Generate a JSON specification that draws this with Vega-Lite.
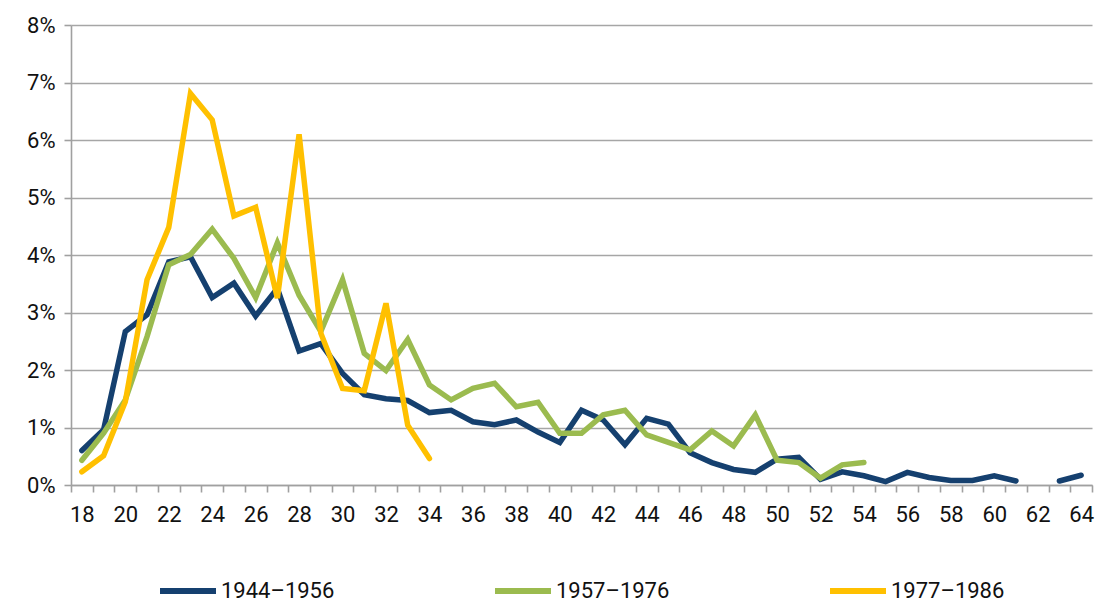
{
  "$schema": "https://vega.github.io/schema/vega-lite/v6.json",
  "autosize": {"type": "none"},
  "padding": {"left": 71, "top": 25, "right": 6, "bottom": 116},
  "width": 1021,
  "height": 460,
  "background": "white",
  "config": {
    "view": {"stroke": null},
    "font": "Roboto",
    "axis": {
      "labelFont": "Roboto",
      "labelFontSize": 22,
      "labelColor": "#111111",
      "domainColor": "#a0a0a0",
      "domainWidth": 1.6,
      "tickColor": "#a0a0a0",
      "tickWidth": 1.6,
      "tickSize": 7,
      "title": null
    },
    "legend": {
      "labelFont": "Roboto",
      "labelFontSize": 22,
      "labelColor": "#111111"
    }
  },
  "data": {
    "values": [
      {"age": 18, "cohort": "1944–1956", "share": 0.60},
      {"age": 19, "cohort": "1944–1956", "share": 0.96},
      {"age": 20, "cohort": "1944–1956", "share": 2.67},
      {"age": 21, "cohort": "1944–1956", "share": 2.96},
      {"age": 22, "cohort": "1944–1956", "share": 3.88},
      {"age": 23, "cohort": "1944–1956", "share": 3.97},
      {"age": 24, "cohort": "1944–1956", "share": 3.26},
      {"age": 25, "cohort": "1944–1956", "share": 3.51},
      {"age": 26, "cohort": "1944–1956", "share": 2.94},
      {"age": 27, "cohort": "1944–1956", "share": 3.42},
      {"age": 28, "cohort": "1944–1956", "share": 2.33},
      {"age": 29, "cohort": "1944–1956", "share": 2.46},
      {"age": 30, "cohort": "1944–1956", "share": 1.94},
      {"age": 31, "cohort": "1944–1956", "share": 1.57},
      {"age": 32, "cohort": "1944–1956", "share": 1.50},
      {"age": 33, "cohort": "1944–1956", "share": 1.47},
      {"age": 34, "cohort": "1944–1956", "share": 1.26},
      {"age": 35, "cohort": "1944–1956", "share": 1.30},
      {"age": 36, "cohort": "1944–1956", "share": 1.10},
      {"age": 37, "cohort": "1944–1956", "share": 1.05},
      {"age": 38, "cohort": "1944–1956", "share": 1.13},
      {"age": 39, "cohort": "1944–1956", "share": 0.92},
      {"age": 40, "cohort": "1944–1956", "share": 0.74},
      {"age": 41, "cohort": "1944–1956", "share": 1.30},
      {"age": 42, "cohort": "1944–1956", "share": 1.13},
      {"age": 43, "cohort": "1944–1956", "share": 0.70},
      {"age": 44, "cohort": "1944–1956", "share": 1.16},
      {"age": 45, "cohort": "1944–1956", "share": 1.06},
      {"age": 46, "cohort": "1944–1956", "share": 0.56},
      {"age": 47, "cohort": "1944–1956", "share": 0.39},
      {"age": 48, "cohort": "1944–1956", "share": 0.27},
      {"age": 49, "cohort": "1944–1956", "share": 0.22},
      {"age": 50, "cohort": "1944–1956", "share": 0.45},
      {"age": 51, "cohort": "1944–1956", "share": 0.48},
      {"age": 52, "cohort": "1944–1956", "share": 0.10},
      {"age": 53, "cohort": "1944–1956", "share": 0.23},
      {"age": 54, "cohort": "1944–1956", "share": 0.16},
      {"age": 55, "cohort": "1944–1956", "share": 0.06},
      {"age": 56, "cohort": "1944–1956", "share": 0.22},
      {"age": 57, "cohort": "1944–1956", "share": 0.13},
      {"age": 58, "cohort": "1944–1956", "share": 0.08},
      {"age": 59, "cohort": "1944–1956", "share": 0.08},
      {"age": 60, "cohort": "1944–1956", "share": 0.16},
      {"age": 61, "cohort": "1944–1956", "share": 0.07},
      {"age": 62, "cohort": "1944–1956", "share": null},
      {"age": 63, "cohort": "1944–1956", "share": 0.07},
      {"age": 64, "cohort": "1944–1956", "share": 0.17},
      {"age": 18, "cohort": "1957–1976", "share": 0.43},
      {"age": 19, "cohort": "1957–1976", "share": 0.90},
      {"age": 20, "cohort": "1957–1976", "share": 1.48},
      {"age": 21, "cohort": "1957–1976", "share": 2.58},
      {"age": 22, "cohort": "1957–1976", "share": 3.83},
      {"age": 23, "cohort": "1957–1976", "share": 4.01},
      {"age": 24, "cohort": "1957–1976", "share": 4.45},
      {"age": 25, "cohort": "1957–1976", "share": 3.94},
      {"age": 26, "cohort": "1957–1976", "share": 3.26},
      {"age": 27, "cohort": "1957–1976", "share": 4.21},
      {"age": 28, "cohort": "1957–1976", "share": 3.30},
      {"age": 29, "cohort": "1957–1976", "share": 2.67},
      {"age": 30, "cohort": "1957–1976", "share": 3.57},
      {"age": 31, "cohort": "1957–1976", "share": 2.29},
      {"age": 32, "cohort": "1957–1976", "share": 1.99},
      {"age": 33, "cohort": "1957–1976", "share": 2.53},
      {"age": 34, "cohort": "1957–1976", "share": 1.74},
      {"age": 35, "cohort": "1957–1976", "share": 1.48},
      {"age": 36, "cohort": "1957–1976", "share": 1.68},
      {"age": 37, "cohort": "1957–1976", "share": 1.77},
      {"age": 38, "cohort": "1957–1976", "share": 1.36},
      {"age": 39, "cohort": "1957–1976", "share": 1.44},
      {"age": 40, "cohort": "1957–1976", "share": 0.90},
      {"age": 41, "cohort": "1957–1976", "share": 0.90},
      {"age": 42, "cohort": "1957–1976", "share": 1.22},
      {"age": 43, "cohort": "1957–1976", "share": 1.30},
      {"age": 44, "cohort": "1957–1976", "share": 0.87},
      {"age": 45, "cohort": "1957–1976", "share": 0.74},
      {"age": 46, "cohort": "1957–1976", "share": 0.61},
      {"age": 47, "cohort": "1957–1976", "share": 0.94},
      {"age": 48, "cohort": "1957–1976", "share": 0.68},
      {"age": 49, "cohort": "1957–1976", "share": 1.22},
      {"age": 50, "cohort": "1957–1976", "share": 0.43},
      {"age": 51, "cohort": "1957–1976", "share": 0.39},
      {"age": 52, "cohort": "1957–1976", "share": 0.12},
      {"age": 53, "cohort": "1957–1976", "share": 0.35},
      {"age": 54, "cohort": "1957–1976", "share": 0.39},
      {"age": 18, "cohort": "1977–1986", "share": 0.23},
      {"age": 19, "cohort": "1977–1986", "share": 0.51},
      {"age": 20, "cohort": "1977–1986", "share": 1.45},
      {"age": 21, "cohort": "1977–1986", "share": 3.57},
      {"age": 22, "cohort": "1977–1986", "share": 4.48},
      {"age": 23, "cohort": "1977–1986", "share": 6.81},
      {"age": 24, "cohort": "1977–1986", "share": 6.35},
      {"age": 25, "cohort": "1977–1986", "share": 4.68},
      {"age": 26, "cohort": "1977–1986", "share": 4.83},
      {"age": 27, "cohort": "1977–1986", "share": 3.25},
      {"age": 28, "cohort": "1977–1986", "share": 6.10},
      {"age": 29, "cohort": "1977–1986", "share": 2.64},
      {"age": 30, "cohort": "1977–1986", "share": 1.68},
      {"age": 31, "cohort": "1977–1986", "share": 1.64},
      {"age": 32, "cohort": "1977–1986", "share": 3.16},
      {"age": 33, "cohort": "1977–1986", "share": 1.04},
      {"age": 34, "cohort": "1977–1986", "share": 0.46}
    ]
  },
  "mark": {
    "type": "line",
    "strokeWidth": 5.5,
    "strokeCap": "round",
    "strokeJoin": "miter",
    "invalid": "break-paths-show-domains"
  },
  "encoding": {
    "x": {
      "field": "age",
      "type": "ordinal",
      "scale": {
        "type": "band",
        "paddingInner": 0,
        "paddingOuter": 0,
        "domain": [18,19,20,21,22,23,24,25,26,27,28,29,30,31,32,33,34,35,36,37,38,39,40,41,42,43,44,45,46,47,48,49,50,51,52,53,54,55,56,57,58,59,60,61,62,63,64]
      },
      "axis": {
        "tickBand": "extent",
        "labelAngle": 0,
        "labelPadding": 12,
        "labelExpr": "toNumber(datum.value) % 2 == 0 ? datum.label : ''",
        "grid": false
      }
    },
    "y": {
      "field": "share",
      "type": "quantitative",
      "scale": {"domain": [0, 8], "nice": false},
      "axis": {
        "values": [0, 1, 2, 3, 4, 5, 6, 7, 8],
        "labelExpr": "datum.value + '%'",
        "labelPadding": 9,
        "grid": true,
        "gridColor": "#a6a6a6",
        "gridWidth": 1.3
      }
    },
    "color": {
      "field": "cohort",
      "type": "nominal",
      "scale": {
        "domain": ["1944–1956", "1957–1976", "1977–1986"],
        "range": ["#15406f", "#9bbb4f", "#ffc000"]
      },
      "legend": {
        "title": null,
        "orient": "none",
        "direction": "horizontal",
        "legendX": 86,
        "legendY": 535,
        "symbolType": "stroke",
        "symbolSize": 3136,
        "symbolStrokeWidth": 6,
        "labelOffset": 2,
        "columnPadding": 148,
        "padding": 0
      }
    }
  }
}
